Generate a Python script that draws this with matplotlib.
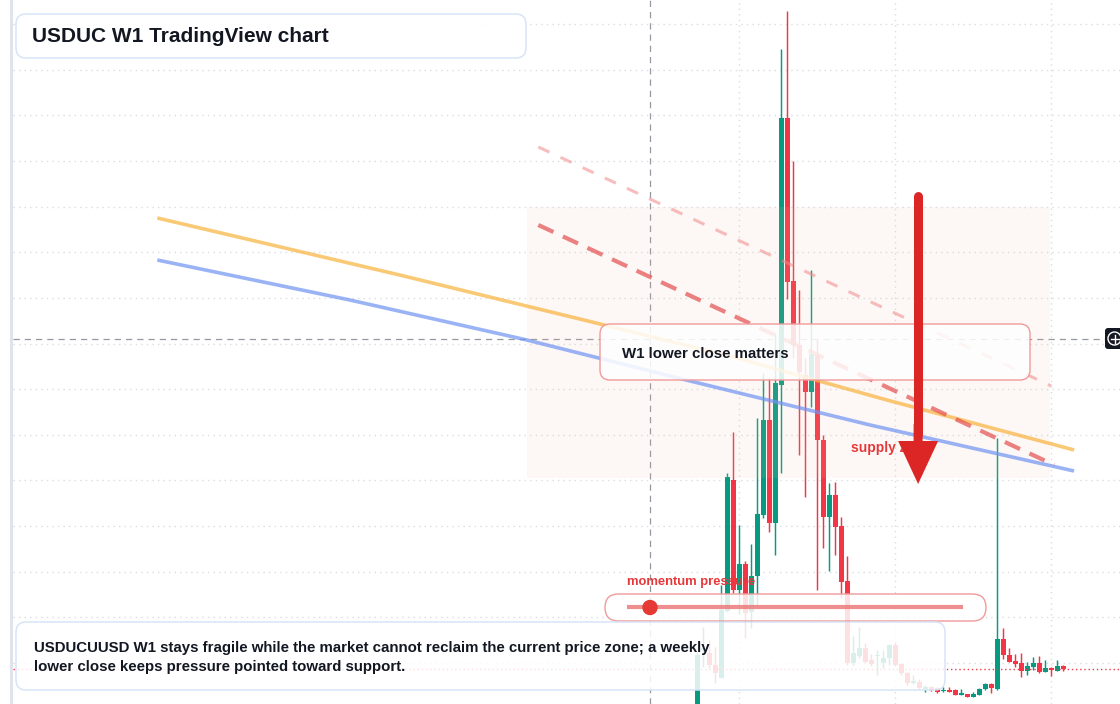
import numpy as np
import matplotlib.pyplot as plt
from matplotlib.patches import FancyBboxPatch, Rectangle, FancyArrowPatch, Circle

plt.rcParams['font.family'] = ['Liberation Sans', 'DejaVu Sans']

# weekly candles, price in chart points (no axis labels visible on the screenshot)
opens = [-2, 54, 51, 39, 26, 93, 224, 114, 140, 92, 128, 189, 284, 181, 319, 586,
         423, 359, 329, 312, 349, 264, 187, 209, 178, 123, 41, 48, 56, 44, 48, 41,
         46, 59, 40, 31, 21, 22, 15, 17, 16, 13, 14, 14, 9.5, 10, 7, 9, 15, 20, 15,
         65, 49, 43, 41, 33, 37, 41, 32, 36, 33, 38]
highs = [52, 77, 64, 57, 119, 231, 272, 179, 143, 160, 286, 331, 326, 371, 655, 693,
         543, 414, 346, 434, 364, 269, 221, 222, 187, 148, 68, 77, 61, 50, 54, 54,
         60, 62, 41, 32, 29, 25, 19, 18, 17, 17, 17, 15, 15, 10, 12, 16, 21, 21, 266,
         76, 56, 50, 51, 42, 47, 48, 44, 37, 44, 39]
lows = [-4, 37, 36, 21, 26, 92, 111, 90, 66, 76, 98, 186, 172, 149, 231, 405,
        346, 249, 207, 297, 114, 156, 133, 149, 106, 39, 39, 46, 41, 38, 29, 36,
        39, 38, 29, 19, 20, 15, 12, 13, 11, 12, 12, 9, 9, 7, 7, 9, 14, 11, 14,
        45, 42, 37, 27, 29, 34, 31, 32, 28, 33, 33]
closes = [49, 56, 39, 31, 94, 227, 114, 140, 91, 128, 190, 284, 181, 321, 586, 422,
          359, 332, 312, 350, 264, 187, 209, 177, 122, 41, 51, 56, 42, 40, 49, 46,
          59, 39, 31, 21, 23, 16, 17, 14, 12, 14, 12.5, 9, 10, 7, 10, 15, 20, 16, 65,
          49, 42, 40.5, 33, 38, 41, 32, 36, 34, 38, 35]

# moving averages (bar index, price)
ma_fast_x = [-90.0, -49.6, -16.2, 6.0, 31.6, 62.8]
ma_fast_y = [486, 429, 380, 347, 304, 254]
ma_slow_x = [-90.0, -57.9, -28.4, -1.2, 28.8, 62.8]
ma_slow_y = [444, 404, 364, 323, 279, 233]

# drawn trend lines
trend_main_x = [-26.5, 59.5]
trend_main_y = [479, 239]
trend_upper_x = [-26.5, 59.0]
trend_upper_y = [557, 318]

zone_x = [-28.4, 58.8]
zone_y = [226, 497]
arrow_x = 36.8
arrow_y = [508, 220]
crosshair_x = -7.9
crosshair_y = 365

title = "USDUC W1 TradingView chart"
note = ("USDUCUUSD W1 stays fragile while the market cannot reclaim the current price zone; a weekly\n"
        "lower close keeps pressure pointed toward support.")
callout = "W1 lower close matters"

UP = '#089981'
DOWN = '#f23645'
INK = '#131722'

fig = plt.figure(figsize=(11.2, 7.04), dpi=100)
ax = fig.add_axes([0, 0, 1, 1])
ax.set_xlim(-116.22, 70.45)
ax.set_ylim(0, 704)
ax.axis('off')
inch = fig.dpi_scale_trans


def P(x, y):
    return x / 100, (704 - y) / 100


# grid
for gy in np.arange(41, 704, 45.64):
    ax.axhline(gy, xmin=13 / 1120, color='#dadce1', lw=1, ls=(0, (1, 3)), zorder=0)
for gx in [6.95, 32.95, 58.95]:
    ax.axvline(gx, color='#dadce1', lw=1, ls=(0, (1, 3)), zorder=0)

# crosshair
ax.axvline(crosshair_x, color='#9598a1', lw=0.9, ls=(0, (5, 4)), zorder=1)
ax.axhline(crosshair_y, xmin=13 / 1120, xmax=1105 / 1120, color='#9598a1', lw=0.9,
           ls=(0, (5, 4)), zorder=1)

# candles
idx = np.arange(len(opens))
o = np.array(opens, float)
c = np.array(closes, float)
colors = [UP if cc >= oo else DOWN for oo, cc in zip(o, c)]
ax.vlines(idx, lows, highs, colors=colors, lw=1.05, zorder=2)
h = np.where(np.abs(c - o) < 1.2, 1.2, np.abs(c - o))
ax.bar(idx, h, bottom=np.minimum(o, c), width=0.83, color=colors, lw=0, zorder=2)

# supply zone overlay
ax.add_patch(Rectangle((zone_x[0], zone_y[0]), zone_x[1] - zone_x[0], zone_y[1] - zone_y[0],
                       facecolor='#f3c4a4', alpha=0.11, lw=0, zorder=3))

# last close line
ax.axhline(closes[-1], xmin=13 / 1120, color=DOWN, lw=1, ls=(0, (1, 2)), zorder=3)

# averages and trend lines
ax.plot(ma_fast_x, ma_fast_y, color='#f9b23c', alpha=0.7, lw=2.6, zorder=4,
        solid_capstyle='butt')
ax.plot(ma_slow_x, ma_slow_y, color='#6f93f2', alpha=0.7, lw=2.6, zorder=4,
        solid_capstyle='butt')
ax.plot(trend_upper_x, trend_upper_y, color='#f08a8a', alpha=0.55, lw=2.2,
        ls=(0, (4, 4)), zorder=4)
ax.plot(trend_main_x, trend_main_y, color='#e34d4d', alpha=0.7, lw=3,
        ls=(0, (4, 2.5)), zorder=4)


def box(x0, y0, x1, y1, edge, alpha=0.85, r=0.1, lw=1.0):
    bx, by = P(x0, y1)
    b = FancyBboxPatch((bx, by), (x1 - x0) / 100, (y1 - y0) / 100,
                       boxstyle=f"round,pad=0,rounding_size={r}", transform=inch,
                       facecolor=(1, 1, 1, alpha), edgecolor=edge, lw=lw, zorder=6)
    ax.add_patch(b)


# left strip
ax.add_patch(Rectangle(P(10, 704), 0.03, 7.04, transform=inch, color='#e0e3eb',
                       lw=0, zorder=5))

# boxes
box(16, 14, 526, 58, '#d3e2f6', alpha=0.97)
ax.text(*P(32, 36.5), title, transform=inch, fontsize=15, fontweight='bold',
        color=INK, va='center', ha='left', zorder=8)

box(600, 324, 1030, 380, '#f09a9a')
ax.text(*P(622, 354), callout, transform=inch, fontsize=10.8, fontweight='bold',
        color=INK, va='center', ha='left', zorder=8)

box(605, 594, 986, 621, '#f09a9a', r=0.135)
ax.plot([P(627, 607)[0], P(963, 607)[0]], [P(627, 607)[1], P(963, 607)[1]],
        transform=inch, color='#ec7a7a', lw=3, alpha=0.85, zorder=7,
        solid_capstyle='butt')
ax.add_patch(Circle(P(650, 607.5), 0.07, transform=inch, color='#e53935', zorder=7))
ax.text(*P(627, 582), "momentum pressure", transform=inch, fontsize=9.4,
        fontweight='bold', color='#e5383b', va='center', ha='left', zorder=8)

box(16, 622, 945, 690, '#d3e2f6')
ax.text(*P(34, 657.5), note, transform=inch, fontsize=10.85, fontweight='bold',
        color=INK, va='center', ha='left', linespacing=1.42, zorder=8)

# supply zone label and arrow
ax.text(*P(851, 448), "supply zone", transform=inch, fontsize=9.9,
        fontweight='bold', color='#e5383b', va='center', ha='left', zorder=8)
arr = FancyArrowPatch((arrow_x, arrow_y[1] + 60), (arrow_x, arrow_y[1]),
                      arrowstyle=f"simple,tail_width={9 * 0.72},head_width={40 * 0.72},"
                                 f"head_length={43 * 0.72}",
                      mutation_scale=1, color='#dc2626', lw=0, shrinkA=0, shrinkB=0,
                      zorder=9)
ax.add_patch(arr)
ax.plot([arrow_x, arrow_x], [arrow_y[0], arrow_y[1] + 50], color='#dc2626',
        lw=9 * 0.72, solid_capstyle='round', zorder=9)

# crosshair price tag
ax.add_patch(FancyBboxPatch(P(1105, 349), 0.2, 0.21, transform=inch,
                            boxstyle="round,pad=0,rounding_size=0.03",
                            facecolor='#131722', edgecolor='none', zorder=9))
ax.add_patch(Circle(P(1114.5, 338.5), 0.065, transform=inch, facecolor='none',
                    edgecolor='white', lw=1, zorder=10))
ax.plot([P(1110.5, 0)[0], P(1118.5, 0)[0]], [P(0, 338.5)[1]] * 2, transform=inch,
        color='white', lw=1, zorder=10)
ax.plot([P(1114.5, 0)[0]] * 2, [P(0, 334.5)[1], P(0, 342.5)[1]], transform=inch,
        color='white', lw=1, zorder=10)

fig.savefig('out.png', dpi=100)
